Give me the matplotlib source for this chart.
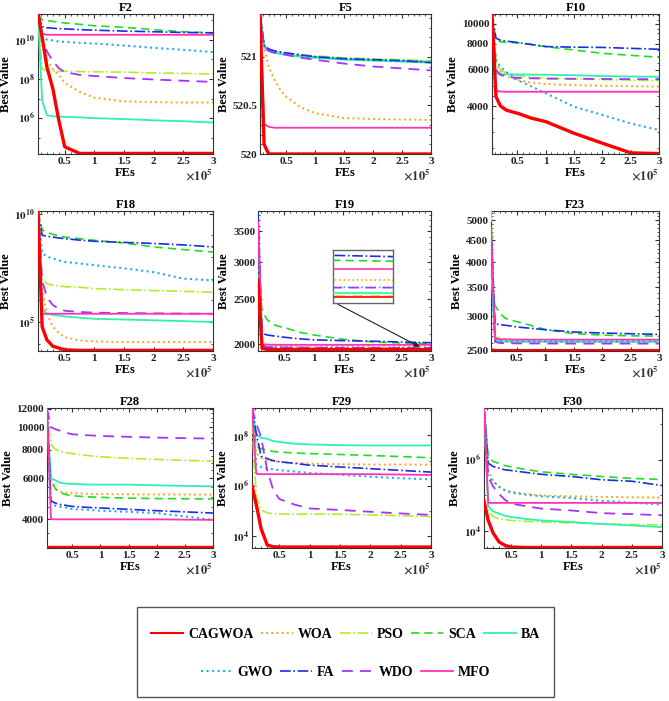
"""
Convergence curves of CAGWOA and eight other optimisers on nine benchmark functions.
Writes out.png
"""
import numpy as np
import matplotlib
matplotlib.use("Agg")
import matplotlib.pyplot as plt
from matplotlib.ticker import (FuncFormatter, MultipleLocator, AutoMinorLocator,
                               LogLocator, NullFormatter, FixedLocator)
from matplotlib.patches import Rectangle
from matplotlib.lines import Line2D

plt.rcParams["font.family"] = ["Liberation Serif", "DejaVu Serif"]
plt.rcParams["font.weight"] = "bold"
plt.rcParams["mathtext.fontset"] = "stix"

W, H = 669, 701

ALGOS = ["CAGWOA", "WOA", "PSO", "SCA", "BA", "GWO", "FA", "WDO", "MFO"]
FES = [0.05, 0.12, 0.2, 0.3, 0.4, 0.5, 0.75, 1.0, 1.5, 2.0, 2.5, 3.0]   # x 1e5

# ---- best values, one row per algorithm (ALGOS order) ----
F2 = [
    [2e11, 1.3e10, 4e8, 3.2e7, 8e5, 3.5e4, 1.6e4, 1.6e4, 1.6e4, 1.6e4, 1.6e4, 1.6e4],
    [2e11, 2e10, 1e9, 3.2e8, 1.6e8, 6.3e7, 2.2e7, 1.1e7, 7.2e6, 6.5e6, 6.3e6, 6.3e6],
    [2e11, 3.2e8, 2.6e8, 2.5e8, 2.4e8, 2.4e8, 2.35e8, 2.3e8, 2.2e8, 2e8, 1.9e8, 1.75e8],
    [2e11, 1e11, 9e10, 8.5e10, 7.5e10, 7e10, 6e10, 5e10, 4.2e10, 3.2e10, 2.5e10, 2.2e10],
    [2e11, 8e6, 1.4e6, 1.25e6, 1.2e6, 1.17e6, 1.1e6, 1e6, 9e5, 7.8e5, 7e5, 6e5],
    [2e11, 1.3e10, 1e10, 9e9, 8e9, 7.6e9, 6.9e9, 6.3e9, 5e9, 3.8e9, 3e9, 2.3e9],
    [2e11, 4.5e10, 4e10, 3.8e10, 3.6e10, 3.5e10, 3.2e10, 3e10, 2.7e10, 2.5e10, 2.3e10, 2.2e10],
    [2e11, 1e10, 2.5e9, 8e8, 3.5e8, 2.2e8, 1.6e8, 1.4e8, 1.1e8, 9.3e7, 8e7, 7e7],
    [2e11, 2e10, 1.75e10, 1.75e10, 1.75e10, 1.75e10, 1.75e10, 1.75e10, 1.75e10, 1.75e10, 1.75e10, 1.75e10],
]
F5 = [
    [521.44, 520.1, 520.0, 520.0, 520.0, 520.0, 520.0, 520.0, 520.0, 520.0, 520.0, 520.0],
    [521.44, 521.1, 520.9, 520.76, 520.66, 520.59, 520.48, 520.42, 520.37, 520.36, 520.355, 520.35],
    [521.44, 521.12, 521.08, 521.06, 521.05, 521.04, 521.02, 521.01, 520.99, 520.98, 520.97, 520.96],
    [521.44, 521.11, 521.07, 521.05, 521.04, 521.03, 521.01, 521.0, 520.98, 520.97, 520.96, 520.95],
    [521.44, 521.1, 521.06, 521.04, 521.03, 521.02, 521.0, 520.99, 520.97, 520.96, 520.95, 520.94],
    [521.44, 521.11, 521.07, 521.05, 521.04, 521.03, 521.01, 520.995, 520.98, 520.965, 520.955, 520.945],
    [521.44, 521.12, 521.08, 521.06, 521.05, 521.04, 521.02, 521.0, 520.98, 520.97, 520.96, 520.94],
    [521.44, 521.1, 521.06, 521.04, 521.03, 521.02, 520.99, 520.97, 520.93, 520.9, 520.88, 520.86],
    [521.44, 520.31, 520.28, 520.27, 520.27, 520.27, 520.27, 520.27, 520.27, 520.27, 520.27, 520.27],
]
F10 = [
    [11000, 4450, 4010, 3835, 3760, 3700, 3500, 3370, 2960, 2650, 2380, 2360],
    [11000, 6500, 5880, 5600, 5450, 5350, 5200, 5125, 5060, 5020, 5000, 4980],
    [11000, 6800, 5990, 5800, 5700, 5620, 5530, 5460, 5420, 5380, 5350, 5320],
    [11000, 8500, 8200, 8150, 8130, 8100, 7950, 7770, 7480, 7210, 7050, 6900],
    [11000, 5750, 5720, 5710, 5700, 5700, 5690, 5680, 5650, 5600, 5570, 5550],
    [11000, 6700, 6200, 5880, 5600, 5350, 4980, 4620, 3980, 3630, 3300, 3070],
    [11000, 8530, 8350, 8250, 8200, 8130, 7950, 7770, 7720, 7700, 7620, 7540],
    [11000, 6000, 5660, 5580, 5520, 5480, 5460, 5440, 5430, 5420, 5410, 5400],
    [11000, 4750, 4710, 4700, 4700, 4700, 4700, 4700, 4700, 4700, 4700, 4700],
]
F18 = [
    [1.3e10, 6e4, 1.5e4, 7.6e3, 6.3e3, 5.2e3, 4.9e3, 4.9e3, 4.9e3, 4.9e3, 4.9e3, 4.9e3],
    [1.3e10, 3e6, 2.5e5, 6e4, 3.2e4, 2e4, 1.4e4, 1.26e4, 1.2e4, 1.2e4, 1.2e4, 1.2e4],
    [1.3e10, 1e7, 5.9e6, 5e6, 4.6e6, 4.3e6, 4e6, 3.5e6, 3.1e6, 2.8e6, 2.6e6, 2.35e6],
    [1.3e10, 1.8e9, 1.4e9, 1.1e9, 9.5e8, 8.3e8, 7e8, 5.9e8, 4.4e8, 2.9e8, 2.2e8, 1.7e8],
    [1.3e10, 4e5, 2.5e5, 2.1e5, 2e5, 1.8e5, 1.6e5, 1.4e5, 1.3e5, 1.2e5, 1.1e5, 1e5],
    [1.3e10, 1.5e8, 1.05e8, 8.5e7, 7e7, 5.9e7, 5e7, 4.2e7, 3e7, 2e7, 1e7, 8.3e6],
    [1.3e10, 1e9, 9e8, 8.3e8, 7.5e8, 7e8, 6e8, 5.3e8, 4.7e8, 4.2e8, 3.6e8, 2.9e8],
    [1.3e10, 8e6, 1.4e6, 6e5, 4.2e5, 3.3e5, 2.9e5, 2.7e5, 2.6e5, 2.5e5, 2.45e5, 2.4e5],
    [1.3e10, 2.4e5, 2.4e5, 2.4e5, 2.4e5, 2.4e5, 2.4e5, 2.4e5, 2.4e5, 2.4e5, 2.4e5, 2.4e5],
]
F19 = [
    [2750, 1960, 1950, 1949, 1948, 1948, 1948, 1948, 1948, 1948, 1948, 1948],
    [2900, 2000, 1990, 1985, 1982, 1980, 1979, 1978, 1977.5, 1977, 1977, 1977],
    [2600, 1960, 1955, 1953, 1952, 1951, 1950, 1950, 1949.5, 1949, 1949, 1949],
    [2800, 2362, 2263, 2207, 2185, 2173, 2123, 2094, 2050, 2023, 2012, 2007.5],
    [2750, 1965, 1958, 1957, 1956, 1956, 1955.5, 1955, 1955, 1955, 1955, 1955],
    [3500, 1990, 1975, 1972, 1970, 1968, 1967, 1966, 1965, 1964.5, 1964, 1964],
    [3850, 2110, 2095, 2085, 2078, 2070, 2055, 2044, 2036, 2030, 2022, 2015],
    [3700, 1985, 1972, 1970, 1968, 1967, 1966, 1965, 1964.5, 1964, 1963.5, 1963.5],
    [3650, 2000, 1996, 1995, 1994.5, 1994, 1994, 1994, 1994, 1994, 1994, 1994],
]
F23 = [
    [2510, 2502, 2500, 2500, 2500, 2500, 2500, 2500, 2500, 2500, 2500, 2500],
    [4600, 2725, 2670, 2660, 2655, 2650, 2648, 2645, 2642, 2640, 2640, 2640],
    [5250, 2700, 2650, 2640, 2635, 2630, 2628, 2625, 2622, 2620, 2620, 2620],
    [3700, 3180, 3050, 2970, 2935, 2917, 2860, 2795, 2737, 2715, 2705, 2700],
    [3900, 2640, 2625, 2622, 2620, 2620, 2620, 2620, 2620, 2620, 2620, 2620],
    [4400, 2680, 2632, 2630, 2628, 2627, 2627, 2626, 2625, 2625, 2625, 2625],
    [4900, 2886, 2870, 2860, 2850, 2835, 2815, 2795, 2760, 2745, 2735, 2725],
    [4700, 2620, 2603, 2600, 2600, 2598, 2597, 2596, 2595, 2595, 2595, 2595],
    [4800, 2660, 2655, 2653, 2652, 2651, 2650, 2650, 2650, 2650, 2650, 2650],
]
F28 = [
    [3040, 3040, 3040, 3040, 3040, 3040, 3040, 3040, 3040, 3040, 3040, 3040],
    [11500, 5900, 5400, 5250, 5200, 5190, 5150, 5130, 5120, 5115, 5110, 5110],
    [12000, 8430, 8000, 7850, 7750, 7690, 7550, 7440, 7330, 7250, 7180, 7130],
    [11000, 5930, 5400, 5190, 5100, 5050, 5000, 4970, 4930, 4910, 4900, 4890],
    [11000, 6000, 5890, 5730, 5700, 5680, 5650, 5640, 5640, 5600, 5570, 5540],
    [11500, 4700, 4570, 4520, 4480, 4420, 4390, 4350, 4300, 4250, 4110, 3970],
    [12000, 4800, 4690, 4620, 4580, 4540, 4500, 4470, 4410, 4350, 4300, 4250],
    [12000, 10000, 9800, 9620, 9450, 9310, 9230, 9160, 9080, 9010, 8960, 8920],
    [12000, 4000, 3990, 3990, 3990, 3990, 3990, 3990, 3990, 3990, 3980, 3970],
]
F29 = [
    [1e6, 1.8e5, 2e4, 4.5e3, 3.8e3, 3.7e3, 3.7e3, 3.7e3, 3.7e3, 3.7e3, 3.7e3, 3.7e3],
    [1.2e9, 2e7, 1.3e7, 1e7, 9.5e6, 9e6, 8e6, 7.6e6, 7.2e6, 7e6, 7e6, 6.9e6],
    [3e8, 4e5, 1.1e5, 8.5e4, 7.8e4, 7.6e4, 7.4e4, 7.6e4, 7.4e4, 7e4, 6.5e4, 6e4],
    [1.2e9, 3.5e7, 3e7, 2.6e7, 2.3e7, 2.2e7, 2e7, 1.9e7, 1.75e7, 1.6e7, 1.45e7, 1.3e7],
    [1.2e9, 1.1e8, 8e7, 7.4e7, 6e7, 5.5e7, 4.7e7, 4.4e7, 4.1e7, 4e7, 4e7, 4e7],
    [1.2e9, 7e6, 5.6e6, 4.8e6, 4.5e6, 4.2e6, 3.7e6, 3.2e6, 2.8e6, 2.3e6, 2e6, 1.8e6],
    [1.2e9, 1.2e8, 1.5e7, 1.2e7, 1e7, 9e6, 7.8e6, 6.6e6, 5.6e6, 4.8e6, 4.1e6, 3.5e6],
    [1.2e9, 3e8, 8.5e7, 4.2e6, 6.8e5, 3e5, 1.8e5, 1.26e5, 1.1e5, 9.3e4, 8e4, 7e4],
    [1.2e9, 3e6, 2.9e6, 2.9e6, 2.9e6, 2.9e6, 2.9e6, 2.9e6, 2.9e6, 2.9e6, 2.8e6, 2.7e6],
]
F30 = [
    [7e4, 2e4, 9e3, 5e3, 4e3, 3.6e3, 3.5e3, 3.5e3, 3.5e3, 3.5e3, 3.5e3, 3.5e3],
    [2.8e7, 5e5, 2.6e5, 1.75e5, 1.4e5, 1.26e5, 1.1e5, 1e5, 9.5e4, 9.1e4, 8.9e4, 8.7e4],
    [2.8e7, 3.5e4, 2.6e4, 2.2e4, 2.1e4, 2e4, 1.9e4, 1.8e4, 1.7e4, 1.6e4, 1.55e4, 1.5e4],
    [2.8e7, 1.2e6, 9e5, 7.8e5, 6.8e5, 6.3e5, 5.3e5, 4.6e5, 3.9e5, 3.4e5, 3e5, 2.8e5],
    [2.8e7, 5e4, 3.6e4, 3.1e4, 2.7e4, 2.5e4, 2.2e4, 2e4, 1.8e4, 1.6e4, 1.45e4, 1.3e4],
    [2.8e7, 3.5e5, 2.5e5, 1.75e5, 1.4e5, 1.2e5, 1.05e5, 9.5e4, 8.5e4, 7.1e4, 6.3e4, 5.6e4],
    [2.8e7, 8e5, 6.5e5, 5.8e5, 5.2e5, 5e5, 4.4e5, 3.9e5, 3.4e5, 2.75e5, 2.5e5, 1.9e5],
    [2.8e7, 3.3e5, 1.8e5, 1.1e5, 7.5e4, 5.9e4, 5e4, 4.3e4, 3.8e4, 3.2e4, 3e4, 2.8e4],
    [2.8e7, 6.2e4, 6.2e4, 6.2e4, 6.2e4, 6.2e4, 6.2e4, 6.2e4, 6.2e4, 6.2e4, 6.2e4, 6.2e4],
]

# ---- styles ----
STY = [
    dict(color="#FF0000", ls="-", lw=2.4, zorder=10),
    dict(color="#FFA31A", ls=":", lw=1.4),
    dict(color="#ADF02A", ls="-.", lw=1.2),
    dict(color="#1EE01E", ls=(0, (5, 3)), lw=1.2),
    dict(color="#2EF0B4", ls="-", lw=1.3),
    dict(color="#22AAF5", ls=":", lw=1.5),
    dict(color="#1A2CE6", ls="-.", lw=1.2),
    dict(color="#A632FF", ls=(0, (6, 4)), lw=1.3),
    dict(color="#FF33B4", ls="-", lw=1.3),
]

# title, data, scale, ylim, major yticks, minor locator, box in px (l, t, r, b)
PANELS = [
    ("F2", F2, "log", (1.5e4, 2e11), [1e6, 1e8, 1e10], "dec", (38, 14, 213, 154)),
    ("F5", F5, "linear", (520, 521.44), [520, 520.5, 521], 0.1, (260, 14, 431, 154)),
    ("F10", F10, "log", (2350, 11170), [4000, 6000, 8000, 10000], 500, (492, 14, 659, 154)),
    ("F18", F18, "log", (4.6e3, 1.32e10), [1e5, 1e10], "dec", (38, 211, 213, 351)),
    ("F19", F19, "log", (1934, 3870), [2000, 2500, 3000, 3500], 100, (258, 211, 431, 351)),
    ("F23", F23, "log", (2495, 5250), [2500, 3000, 3500, 4000, 4500, 5000], 100, (491, 211, 659, 351)),
    ("F28", F28, "log", (3000, 12100), [4000, 6000, 8000, 10000, 12000], 500, (47, 408, 213, 548)),
    ("F29", F29, "log", (3390, 1.23e9), [1e4, 1e6, 1e8], "dec", (252, 408, 431, 548)),
    ("F30", F30, "log", (3390, 2.8e7), [1e4, 1e6], "dec", (484, 408, 662, 548)),
]


def px_box(l, t, r, b):
    return [l / W, 1 - b / H, (r - l) / W, (b - t) / H]


def pow10(v, p):
    return r"$\mathbf{10^{%d}}$" % int(round(np.log10(v)))


def style_axes(ax):
    for s in ax.spines.values():
        s.set_color("#333333"); s.set_linewidth(0.8)
    ax.tick_params(which="both", direction="in", top=True, right=True,
                   labelsize=8, colors="#333333", labelcolor="#222222")
    ax.tick_params(which="major", length=3, pad=2)
    ax.tick_params(which="minor", length=1.6)


def main():
    fig = plt.figure(figsize=(W / 100, H / 100), dpi=100)
    x = np.array(FES) * 1e5

    for title, data, scale, ylim, yt, minor, box in PANELS:
        ax = fig.add_axes(px_box(*box))
        for vals, st in zip(data, STY):
            ax.plot(x, vals, color=st["color"], ls=st["ls"], lw=st["lw"],
                    zorder=st.get("zorder", 3))

        ax.set_yscale(scale)
        ax.set_ylim(*ylim)
        ax.set_xlim(FES[0] * 1e5, 3e5)
        ax.set_xticks([0.5e5, 1e5, 1.5e5, 2e5, 2.5e5, 3e5])
        ax.xaxis.set_major_formatter(FuncFormatter(lambda v, p: "%g" % (v / 1e5)))
        ax.xaxis.set_minor_locator(AutoMinorLocator(5))

        ax.yaxis.set_major_locator(FixedLocator(yt))
        if minor == "dec":
            ax.yaxis.set_major_formatter(FuncFormatter(pow10))
            ax.yaxis.set_minor_locator(LogLocator(base=10, subs=(1.0,), numticks=30))
        else:
            ax.yaxis.set_major_formatter(FuncFormatter(lambda v, p: "%g" % v))
            ax.yaxis.set_minor_locator(MultipleLocator(minor))
        ax.yaxis.set_minor_formatter(NullFormatter())

        style_axes(ax)
        ax.set_title(title, fontsize=9, fontweight="bold", pad=2)
        ax.set_xlabel("FEs", fontsize=9, fontweight="bold", labelpad=1)
        ax.set_ylabel("Best Value", fontsize=9, fontweight="bold", labelpad=2)
        ax.text(1.0, -0.15, r"$\times10^5$", transform=ax.transAxes,
                ha="right", va="center", fontsize=9, color="#333333")

        if title == "F19":
            axins = fig.add_axes(px_box(333, 250, 393, 303))
            for vals, st in zip(data, STY):
                axins.plot(x, vals, color=st["color"], ls=st["ls"], lw=1.2,
                           zorder=st.get("zorder", 3))
            axins.set_xlim(2.85e5, 3e5)
            axins.set_ylim(1938, 2026)
            axins.set_xticks([]); axins.set_yticks([])
            for s in axins.spines.values():
                s.set_color("#666666"); s.set_linewidth(1.0)
            ax.annotate("", xy=(2.85e5, 1962), xycoords="data",
                        xytext=(0.04, 0.0), textcoords=axins.transAxes,
                        arrowprops=dict(arrowstyle="-|>", color="#222222",
                                        lw=0.8, mutation_scale=8))

    # legend box with two centred rows
    handles = [Line2D([], [], color=st["color"], ls=st["ls"], lw=min(st["lw"], 1.5))
               for st in STY]
    lax = fig.add_axes(px_box(137, 607, 554, 697))
    lax.axis("off")
    lax.add_patch(Rectangle((0, 0), 1, 1, transform=lax.transAxes, fill=False,
                            edgecolor="#555555", lw=1.0, clip_on=False))
    kw = dict(loc="center", frameon=False, prop=dict(weight="bold", size=10),
              handlelength=2.3, handletextpad=0.35, columnspacing=0.55)
    leg1 = lax.legend(handles[:5], ALGOS[:5], ncol=5, bbox_to_anchor=(0.5, 0.70), **kw)
    lax.add_artist(leg1)
    lax.legend(handles[5:], ALGOS[5:], ncol=4, bbox_to_anchor=(0.5, 0.27), **kw)

    fig.savefig("out.png", dpi=100)


if __name__ == "__main__":
    main()
